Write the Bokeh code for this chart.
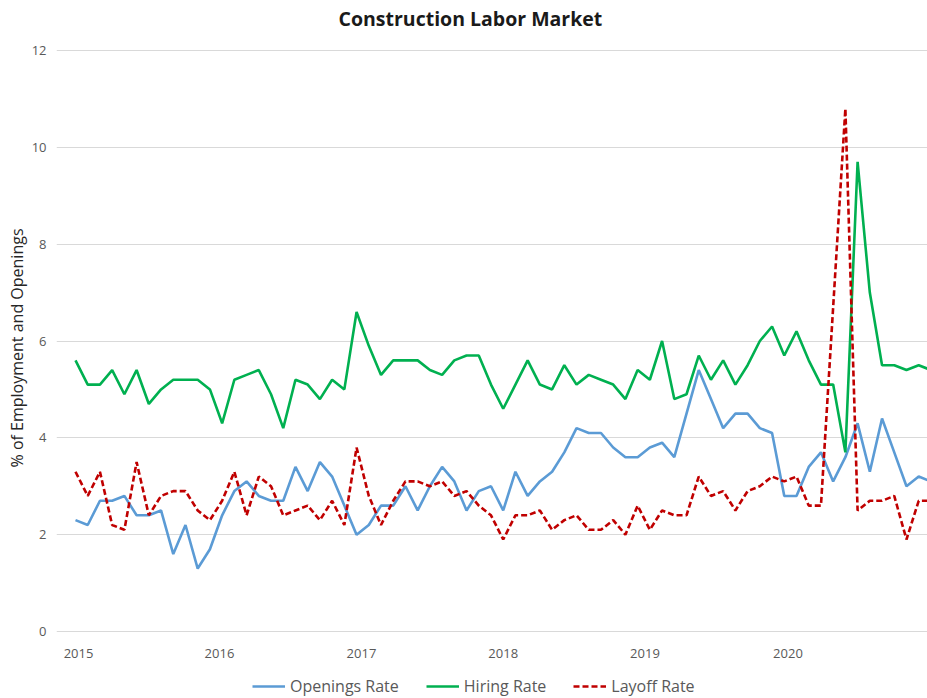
from bokeh.plotting import figure
from bokeh.models import (Range1d, FixedTicker, Legend, LegendItem, ColumnDataSource, Title)
from bokeh.embed import file_html
from bokeh.resources import INLINE

# ---- data (monthly, Jan 2015 onward) ----
months = list(range(71))
openings_rate = [2.3, 2.2, 2.7, 2.7, 2.8, 2.4, 2.4, 2.5, 1.6, 2.2, 1.3, 1.7,
                 2.4, 2.9, 3.1, 2.8, 2.7, 2.7, 3.4, 2.9, 3.5, 3.2, 2.6, 2.0,
                 2.2, 2.6, 2.6, 3.0, 2.5, 3.0, 3.4, 3.1, 2.5, 2.9, 3.0, 2.5,
                 3.3, 2.8, 3.1, 3.3, 3.7, 4.2, 4.1, 4.1, 3.8, 3.6, 3.6, 3.8,
                 3.9, 3.6, 4.5, 5.4, 4.8, 4.2, 4.5, 4.5, 4.2, 4.1, 2.8, 2.8,
                 3.4, 3.7, 3.1, 3.6, 4.3, 3.3, 4.4, 3.7, 3.0, 3.2, 3.1]
hiring_rate = [5.6, 5.1, 5.1, 5.4, 4.9, 5.4, 4.7, 5.0, 5.2, 5.2, 5.2, 5.0,
               4.3, 5.2, 5.3, 5.4, 4.9, 4.2, 5.2, 5.1, 4.8, 5.2, 5.0, 6.6,
               5.9, 5.3, 5.6, 5.6, 5.6, 5.4, 5.3, 5.6, 5.7, 5.7, 5.1, 4.6,
               5.1, 5.6, 5.1, 5.0, 5.5, 5.1, 5.3, 5.2, 5.1, 4.8, 5.4, 5.2,
               6.0, 4.8, 4.9, 5.7, 5.2, 5.6, 5.1, 5.5, 6.0, 6.3, 5.7, 6.2,
               5.6, 5.1, 5.1, 3.7, 9.7, 7.0, 5.5, 5.5, 5.4, 5.5, 5.4]
layoff_rate = [3.3, 2.8, 3.3, 2.2, 2.1, 3.5, 2.4, 2.8, 2.9, 2.9, 2.5, 2.3,
               2.7, 3.3, 2.4, 3.2, 3.0, 2.4, 2.5, 2.6, 2.3, 2.7, 2.2, 3.8,
               2.8, 2.2, 2.7, 3.1, 3.1, 3.0, 3.1, 2.8, 2.9, 2.6, 2.4, 1.9,
               2.4, 2.4, 2.5, 2.1, 2.3, 2.4, 2.1, 2.1, 2.3, 2.0, 2.6, 2.1,
               2.5, 2.4, 2.4, 3.2, 2.8, 2.9, 2.5, 2.9, 3.0, 3.2, 3.1, 3.2,
               2.6, 2.6, 6.7, 10.8, 2.5, 2.7, 2.7, 2.8, 1.9, 2.7, 2.7]

year_tick_pos = [0.25, 11.78, 23.4, 35.0, 46.6, 58.3]
year_labels = ["2015", "2016", "2017", "2018", "2019", "2020"]
y_ticks = [0, 2, 4, 6, 8, 10, 12]

series_names = ["Openings Rate", "Hiring Rate", "Layoff Rate"]
chart_title = "Construction Labor Market"
y_title = "% of Employment and Openings"

FONT = "Open Sans"
GRAY = "#595959"

src = ColumnDataSource(dict(m=months, o=openings_rate, h=hiring_rate, l=layoff_rate))

# frame reaches the bottom of the canvas so the legend can sit under the x labels
p = figure(width=927, height=698, output_backend="svg", toolbar_location=None,
           x_range=Range1d(-1.555, 69.72), y_range=Range1d(-1.384, 12.372),
           min_border_left=56, min_border_right=0, min_border_top=32, min_border_bottom=0)
p.outline_line_color = None
p.background_fill_color = "white"
p.border_fill_color = "white"

# grid
p.xgrid.grid_line_color = None
p.ygrid.grid_line_color = "#d9d9d9"
p.ygrid.grid_line_width = 1
p.ygrid.bounds = (-0.573, 69.72)

# axes
p.yaxis.ticker = FixedTicker(ticks=y_ticks)
p.xaxis.ticker = FixedTicker(ticks=year_tick_pos)
p.xaxis.major_label_overrides = {t: lab for t, lab in zip(year_tick_pos, year_labels)}
p.xaxis.fixed_location = 0
for ax in (p.xaxis[0], p.yaxis[0]):
    ax.axis_line_color = None
    ax.major_tick_line_color = None
    ax.minor_tick_line_color = None
    ax.major_label_text_font = FONT
    ax.major_label_text_font_size = "13px"
    ax.major_label_text_color = GRAY
p.yaxis.major_label_standoff = 4
p.xaxis.major_label_standoff = 12

# y-axis title as a side title so it can be centred on the 0-12 span
ytitle = Title(text=y_title, align="left", offset=231, standoff=2,
               text_font=FONT, text_font_size="16px", text_font_style="normal",
               text_color="#262626")
p.add_layout(ytitle, "left")

# lines
r_o = p.line("m", "o", source=src, line_color="#5b9bd5", line_width=2.6)
r_h = p.line("m", "h", source=src, line_color="#00b050", line_width=2.6)
r_l = p.line("m", "l", source=src, line_color="#c00000", line_width=2.6, line_dash="6 3")

# title
p.title.text = chart_title
p.title.align = "left"
p.title.offset = 282
p.title.standoff = 2
p.title.text_font = FONT
p.title.text_font_size = "19.5px"
p.title.text_font_style = "bold"
p.title.text_color = "#1a1a1a"

legend = Legend(items=[LegendItem(label=series_names[0], renderers=[r_o]),
                       LegendItem(label=series_names[1], renderers=[r_h]),
                       LegendItem(label=series_names[2], renderers=[r_l])],
                orientation="horizontal", location=(196, 1),
                glyph_width=33, glyph_height=16, label_height=16, label_standoff=5, spacing=27,
                padding=0, margin=0, border_line_color=None, background_fill_alpha=0,
                label_text_font=FONT, label_text_font_size="16px", label_text_color=GRAY)
p.add_layout(legend, "center")

open("out.html", "w").write(file_html(p, INLINE))
